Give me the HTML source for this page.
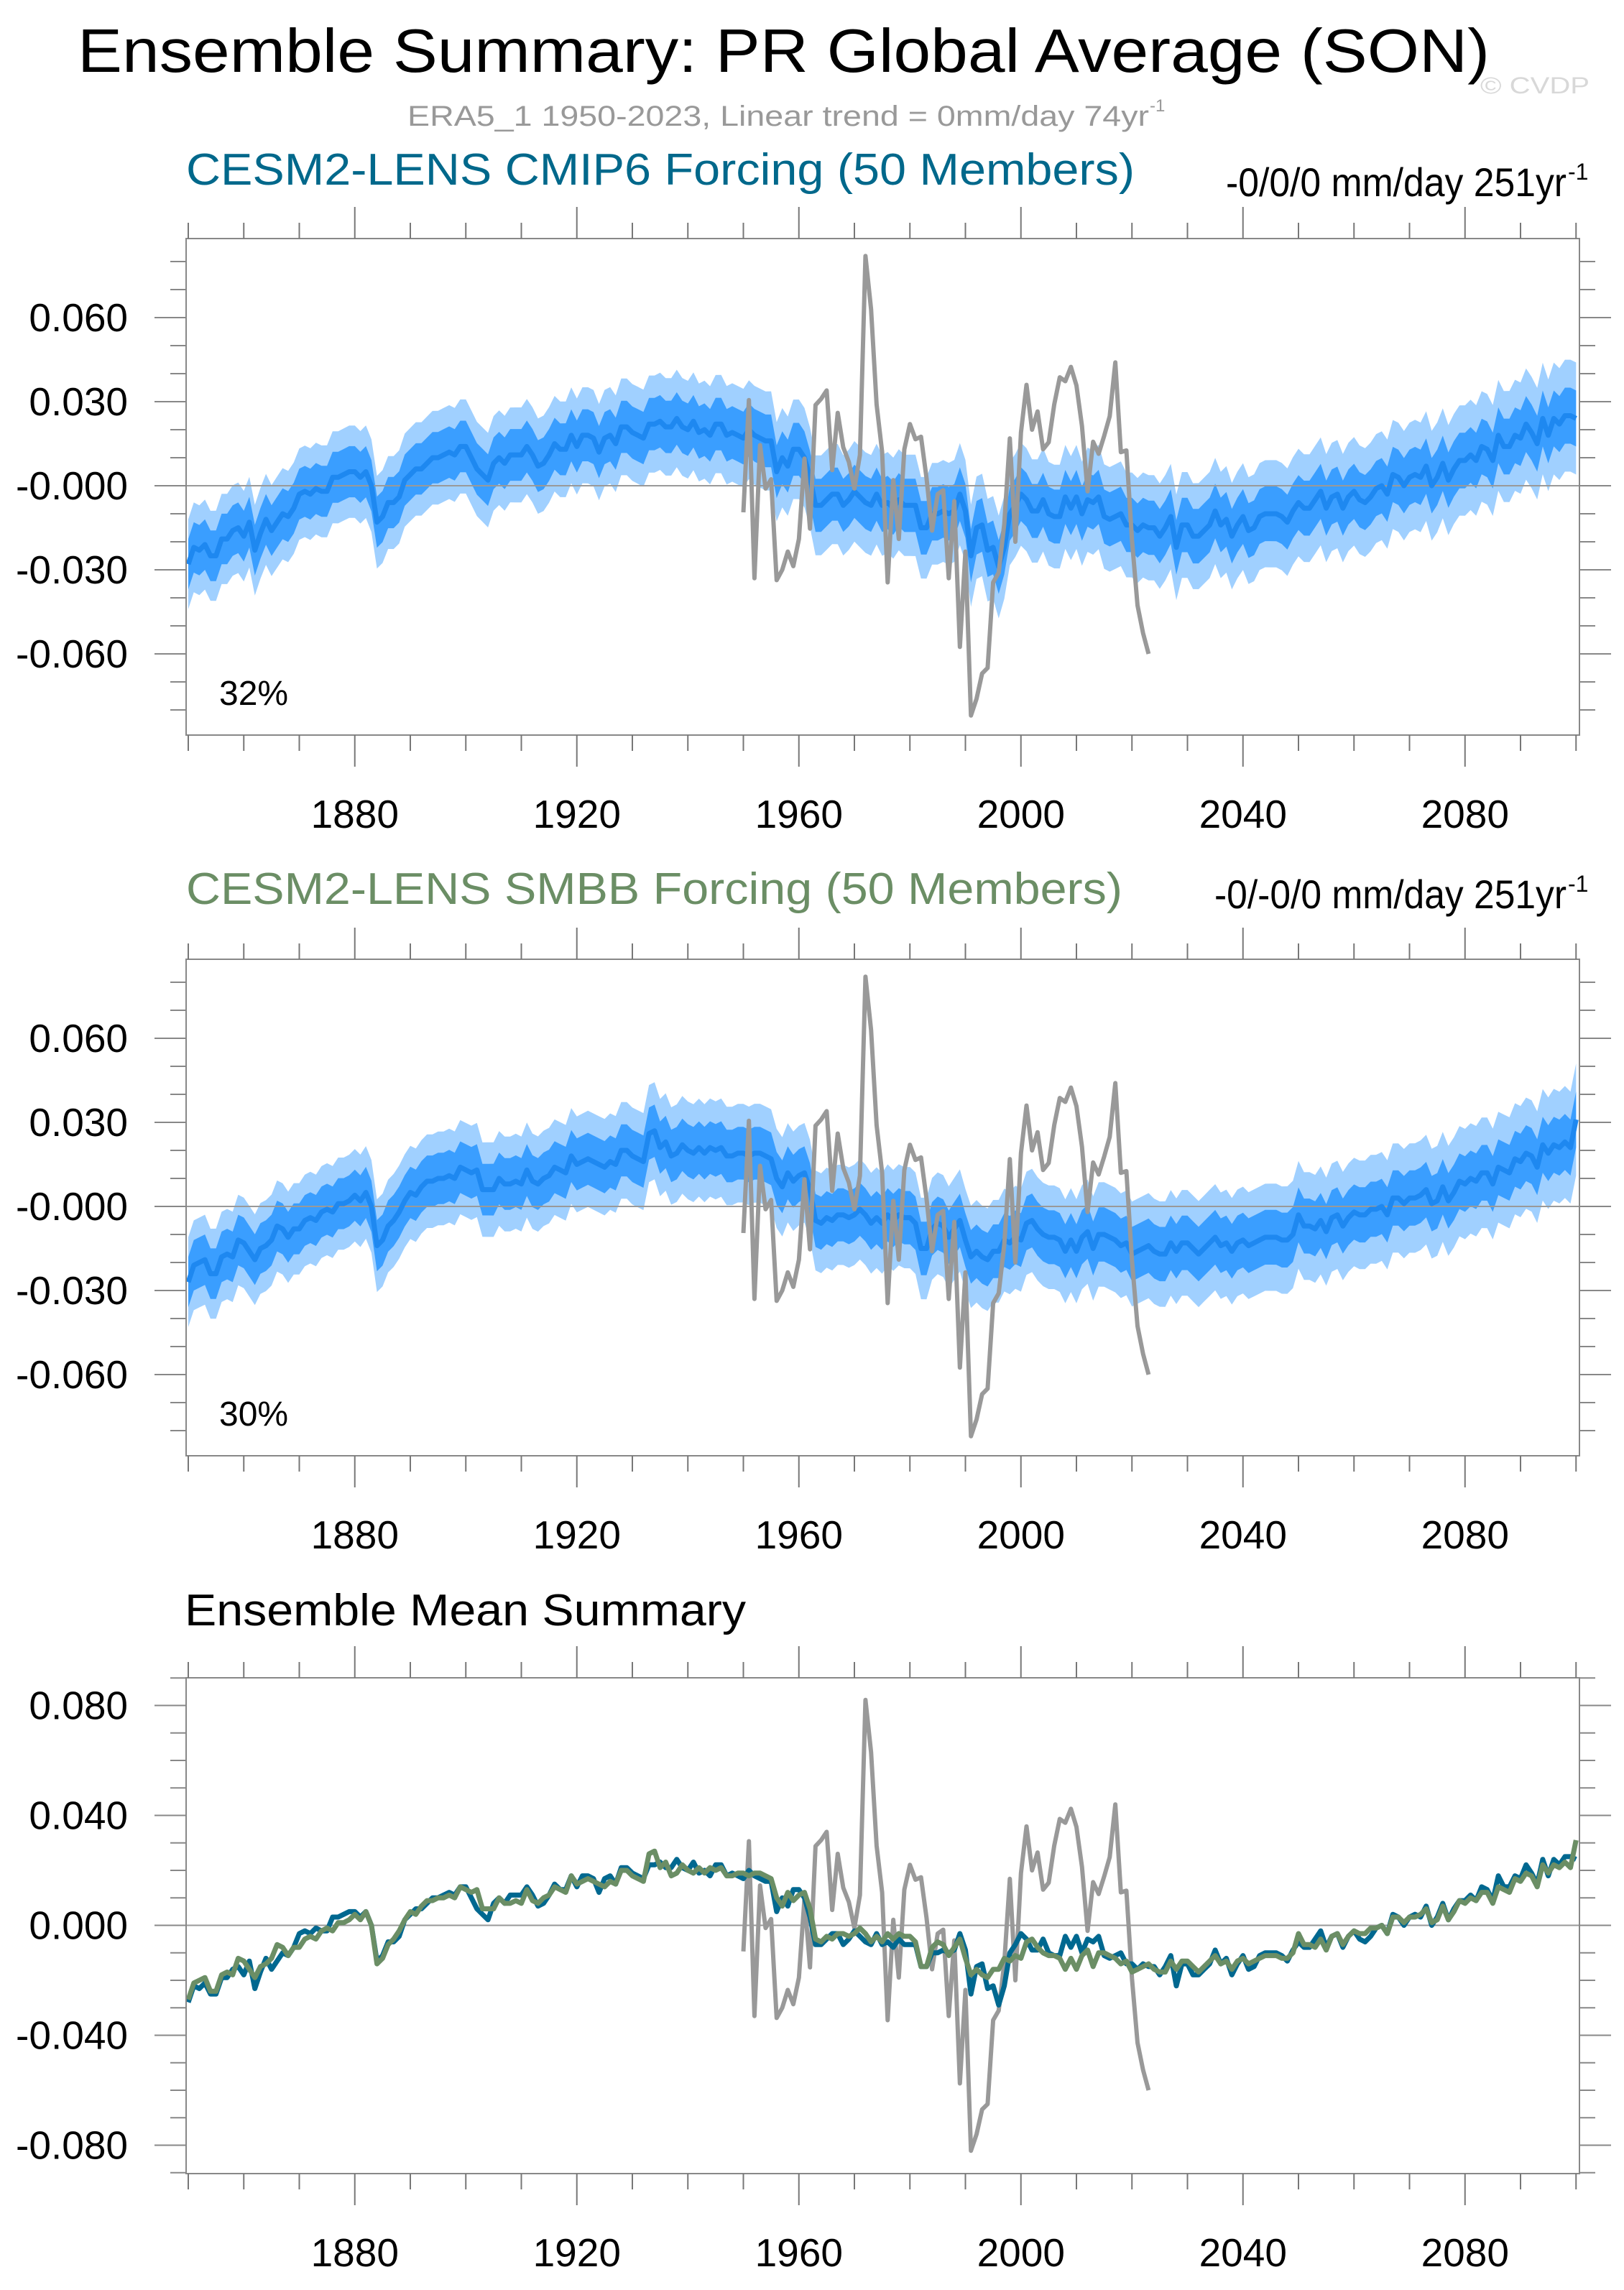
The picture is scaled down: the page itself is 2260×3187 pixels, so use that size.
<!DOCTYPE html>
<html><head><meta charset="utf-8"><style>
html,body{margin:0;padding:0;background:#fff}
svg{display:block;font-family:"Liberation Sans",Arial,sans-serif}
</style></head><body>
<svg id="chart" xmlns="http://www.w3.org/2000/svg" width="2260" height="3187" viewBox="0 0 2260 3187">
<rect width="2260" height="3187" fill="#fff"/>
<text x="108" y="100" font-size="85" textLength="1965" lengthAdjust="spacingAndGlyphs">Ensemble Summary: PR Global Average (SON)</text>
<text x="2060" y="130" font-size="32" fill="#d8d8d8" textLength="152" lengthAdjust="spacingAndGlyphs">© CVDP</text>
<text x="567" y="175" font-size="40" fill="#999" textLength="1032" lengthAdjust="spacingAndGlyphs">ERA5_1 1950-2023, Linear trend = 0mm/day 74yr</text>
<text x="1600" y="155" font-size="24" fill="#999">-1</text>
<text x="259" y="257" font-size="62" fill="#00688b" textLength="1320" lengthAdjust="spacingAndGlyphs">CESM2-LENS CMIP6 Forcing (50 Members)</text>
<text x="1706" y="273" font-size="56" textLength="474" lengthAdjust="spacingAndGlyphs">-0/0/0 mm/day 251yr</text>
<text x="2182" y="250" font-size="32">-1</text>
<text x="259" y="1258" font-size="62" fill="#6b8e65" textLength="1303" lengthAdjust="spacingAndGlyphs">CESM2-LENS SMBB Forcing (50 Members)</text>
<text x="1690" y="1264" font-size="56" textLength="490" lengthAdjust="spacingAndGlyphs">-0/-0/0 mm/day 251yr</text>
<text x="2182" y="1241" font-size="32">-1</text>
<text x="257" y="2262" font-size="62" textLength="781" lengthAdjust="spacingAndGlyphs">Ensemble Mean Summary</text>
<g id="g1"></g><g id="g2"></g><g id="g3"></g>
</svg>
<script>
const cmip6Mean = [-0.028,-0.022,-0.023,-0.021,-0.025,-0.025,-0.019,-0.019,-0.016,-0.015,-0.018,-0.013,-0.023,-0.017,-0.012,-0.016,-0.013,-0.010,-0.011,-0.008,
-0.003,-0.002,-0.003,-0.001,-0.002,-0.002,0.003,0.003,0.004,0.005,0.005,0.003,0.005,0.000,-0.013,-0.011,-0.006,-0.006,-0.004,0.002,
0.004,0.006,0.006,0.008,0.010,0.010,0.011,0.012,0.011,0.014,0.014,0.010,0.006,0.004,0.002,0.008,0.010,0.008,0.011,0.011,
0.011,0.014,0.011,0.007,0.008,0.011,0.015,0.013,0.013,0.018,0.014,0.018,0.018,0.017,0.012,0.017,0.018,0.015,0.021,0.021,
0.019,0.018,0.017,0.022,0.022,0.023,0.021,0.021,0.024,0.021,0.020,0.023,0.019,0.020,0.018,0.022,0.022,0.018,0.019,0.018,
0.017,0.020,0.018,0.017,0.016,0.016,0.005,0.010,0.007,0.013,0.013,0.010,0.003,-0.007,-0.007,-0.005,-0.003,-0.003,-0.007,-0.005,
-0.002,-0.004,-0.006,-0.007,-0.003,-0.007,-0.006,-0.008,-0.005,-0.007,-0.007,-0.007,-0.015,-0.015,-0.010,-0.010,-0.009,-0.010,-0.009,-0.003,
-0.009,-0.025,-0.015,-0.014,-0.023,-0.022,-0.029,-0.022,-0.010,-0.007,-0.003,-0.005,-0.009,-0.009,-0.005,-0.010,-0.011,-0.011,-0.004,-0.008,
-0.004,-0.010,-0.005,-0.006,-0.004,-0.011,-0.012,-0.011,-0.010,-0.014,-0.014,-0.016,-0.014,-0.015,-0.015,-0.018,-0.015,-0.011,-0.022,-0.014,
-0.014,-0.018,-0.018,-0.016,-0.014,-0.009,-0.014,-0.012,-0.018,-0.014,-0.011,-0.016,-0.015,-0.011,-0.010,-0.010,-0.010,-0.011,-0.013,-0.009,
-0.006,-0.008,-0.008,-0.005,-0.002,-0.008,-0.004,-0.003,-0.008,-0.004,-0.002,-0.005,-0.006,-0.004,-0.001,0.000,-0.003,0.004,0.003,0.000,
0.003,0.004,0.003,0.007,0.000,0.003,0.008,0.002,0.006,0.009,0.009,0.011,0.009,0.014,0.013,0.009,0.018,0.014,0.014,0.018,
0.017,0.022,0.019,0.015,0.024,0.018,0.024,0.022,0.025,0.025,0.024];
const smbbMean = [-0.027,-0.021,-0.020,-0.019,-0.024,-0.024,-0.018,-0.017,-0.018,-0.012,-0.013,-0.016,-0.019,-0.015,-0.014,-0.012,-0.007,-0.008,-0.011,-0.008,
-0.008,-0.005,-0.004,-0.005,-0.002,-0.001,-0.002,0.001,0.001,0.002,0.004,0.002,0.005,0.000,-0.014,-0.012,-0.007,-0.005,-0.002,0.002,
0.005,0.004,0.007,0.009,0.009,0.010,0.010,0.011,0.010,0.014,0.013,0.012,0.013,0.006,0.006,0.006,0.010,0.008,0.008,0.009,
0.008,0.013,0.009,0.008,0.010,0.011,0.014,0.013,0.012,0.018,0.015,0.016,0.017,0.016,0.015,0.014,0.016,0.015,0.020,0.020,
0.018,0.017,0.016,0.026,0.027,0.021,0.023,0.018,0.019,0.022,0.020,0.019,0.021,0.019,0.021,0.020,0.021,0.018,0.018,0.019,
0.019,0.018,0.019,0.019,0.018,0.017,0.010,0.007,0.012,0.009,0.011,0.012,0.006,-0.005,-0.006,-0.004,-0.005,-0.003,-0.003,-0.004,
-0.003,-0.001,-0.003,-0.006,-0.004,-0.006,-0.003,-0.005,-0.003,-0.004,-0.004,-0.006,-0.015,-0.015,-0.008,-0.006,-0.007,-0.011,-0.008,-0.005,
-0.012,-0.018,-0.016,-0.018,-0.019,-0.016,-0.016,-0.012,-0.013,-0.011,-0.012,-0.006,-0.005,-0.008,-0.010,-0.011,-0.011,-0.012,-0.016,-0.012,
-0.016,-0.011,-0.009,-0.015,-0.010,-0.010,-0.011,-0.012,-0.014,-0.013,-0.017,-0.016,-0.015,-0.014,-0.016,-0.017,-0.017,-0.013,-0.016,-0.013,
-0.013,-0.015,-0.017,-0.015,-0.013,-0.011,-0.014,-0.013,-0.016,-0.013,-0.012,-0.014,-0.013,-0.012,-0.011,-0.011,-0.011,-0.012,-0.012,-0.010,
-0.003,-0.007,-0.007,-0.008,-0.005,-0.009,-0.004,-0.003,-0.007,-0.004,-0.002,-0.003,-0.003,-0.001,-0.001,0.000,-0.003,0.003,0.003,0.001,
0.003,0.003,0.004,0.006,0.001,0.002,0.007,0.002,0.005,0.009,0.008,0.010,0.009,0.012,0.012,0.008,0.014,0.013,0.012,0.017,
0.016,0.019,0.018,0.014,0.022,0.019,0.022,0.021,0.023,0.021,0.031];
const obsValues = [-0.0095,0.0306,-0.033,0.0145,-0.001,0.0023,-0.0337,-0.030,-0.0235,-0.0287,-0.019,0.0097,-0.0153,0.0288,0.031,0.034,0.0056,0.026,0.0137,0.0085,
-0.001,0.011,0.082,0.063,0.029,0.012,-0.0345,0.002,-0.019,0.013,0.022,0.0166,0.0175,0.0027,-0.016,-0.003,-0.0016,-0.033,-0.0055,-0.0575,
-0.0235,-0.082,-0.076,-0.067,-0.065,-0.0345,-0.031,-0.0136,0.0169,-0.020,0.019,0.036,0.020,0.0265,0.013,0.0155,0.029,0.0387,0.0373,0.0424,
0.0358,0.0213,-0.002,0.0157,0.0114,0.0178,0.0248,0.044,0.012,0.0126,-0.0194,-0.0427,-0.0526,-0.060];
const modelStartYear = 1850;
const obsStartYear = 1950;
const xTickLabels = ["1880","1920","1960","2000","2040","2080"];
const yTickLabelsTop = ["0.060","0.030","-0.000","-0.030","-0.060"];
const yTickValuesTop = [0.06,0.03,0,-0.03,-0.06];
const yTickLabelsBottom = ["0.080","0.040","0.000","-0.040","-0.080"];
const yTickValuesBottom = [0.08,0.04,0,-0.04,-0.08];
const innerSpread = [0.009,0.010];   // ensemble inner band half width (start, end)
const outerSpread = [0.016,0.020];   // ensemble outer band half width (start, end)
const percentLabels = ["32%","30%"];

const NS="http://www.w3.org/2000/svg";
const X0=262, XPY=7.725;
function xs(yr){return X0+(yr-1850)*XPY;}
function mk(tag,attrs,parent){const e=document.createElementNS(NS,tag);for(const k in attrs)e.setAttribute(k,attrs[k]);parent.appendChild(e);return e;}
function linePts(vals,start,ys){return vals.map((v,i)=>xs(start+i).toFixed(1)+","+ys(v).toFixed(1)).join(" ");}

function axes(g,box,ys,yv,yl,vmin,vmax,name){
  const r=mk('rect',{x:box.l,y:box.t,width:box.r-box.l,height:box.b-box.t,fill:'none',stroke:'#888','stroke-width':2},g);
  
  
  for(let yr=1850;yr<=2100;yr+=10){
    const maj=xTickLabels.indexOf(String(yr))>=0;
    const x=xs(yr);
    mk('line',{x1:x,x2:x,y1:box.t,y2:box.t-(maj?44:22),stroke:'#777','stroke-width':2},g);
    mk('line',{x1:x,x2:x,y1:box.b,y2:box.b+(maj?44:22),stroke:'#777','stroke-width':2},g);
  }
  for(let k=Math.ceil(vmin*100);k<=Math.floor(vmax*100);k++){
    const v=k/100, y=ys(v);
    const maj=yv.some(t=>Math.abs(t-v)<1e-9);
    mk('line',{x1:box.l,x2:box.l-(maj?44:22),y1:y,y2:y,stroke:'#888','stroke-width':2},g);
    mk('line',{x1:box.r,x2:box.r+(maj?44:22),y1:y,y2:y,stroke:'#888','stroke-width':2},g);
  }
  yv.forEach((v,i)=>{
    const t=mk('text',{x:178,y:ys(v)+19,'font-size':55,'text-anchor':'end'},g);
    t.textContent=yl[i];
    
    
  });
  xTickLabels.forEach(l=>{
    const t=mk('text',{x:xs(+l),y:box.b+129,'font-size':55,'text-anchor':'middle'},g);
    t.textContent=l;
    
    
  });
}
function zeroLine(g,box,ys){
  const z=mk('line',{x1:box.l,x2:box.r+44,y1:ys(0),y2:ys(0),stroke:'#999','stroke-width':2},g);
  
  
}
function band(g,vals,spread,fill,name,ys){
  const n=vals.length;
  const hw=i=>spread[0]+(spread[1]-spread[0])*i/(n-1);
  const up=vals.map((v,i)=>xs(modelStartYear+i).toFixed(1)+","+ys(v+hw(i)).toFixed(1));
  const dn=vals.map((v,i)=>xs(modelStartYear+i).toFixed(1)+","+ys(v-hw(i)).toFixed(1)).reverse();
  const p=mk('polygon',{points:up.concat(dn).join(" "),fill:fill},g);
  
  
}
function obsLine(g,ys){
  const p=mk('polyline',{points:linePts(obsValues,obsStartYear,ys),fill:'none',stroke:'#999','stroke-width':6,'stroke-linejoin':'round'},g);
  
  
}
function ensPanel(gid,off,vals,pct,name){
  const g=document.getElementById(gid);
  const Y0=676+off, S=3900;
  const ys=v=>Y0-v*S;
  const box={l:259,r:2198,t:332+off,b:1023+off};
  band(g,vals,outerSpread,'#a0d0ff',name+'-outer-band',ys);
  band(g,vals,innerSpread,'#3a9eff',name+'-inner-band',ys);
  zeroLine(g,box,ys);
  const m=mk('polyline',{points:linePts(vals,modelStartYear,ys),fill:'none',stroke:'#1e88f0','stroke-width':7,'stroke-linejoin':'round'},g);
  
  
  obsLine(g,ys);
  axes(g,box,ys,yTickValuesTop,yTickLabelsTop,-0.088,0.088,name);
  const t=mk('text',{x:305,y:981+off,'font-size':48},g);
  t.textContent=pct;
  
  
}
ensPanel('g1',0,cmip6Mean,percentLabels[0],'cmip6-panel');
ensPanel('g2',1003,smbbMean,percentLabels[1],'smbb-panel');
(function(){
  const g=document.getElementById('g3');
  const Y0=2679.5,S=3825.6;
  const ys=v=>Y0-v*S;
  const box={l:259,r:2198,t:2335,b:3025};
  zeroLine(g,box,ys);
  obsLine(g,ys);
  const a=mk('polyline',{points:linePts(cmip6Mean,modelStartYear,ys),fill:'none',stroke:'#006890','stroke-width':7,'stroke-linejoin':'round'},g);
  
  
  const b=mk('polyline',{points:linePts(smbbMean,modelStartYear,ys),fill:'none',stroke:'#6b8e65','stroke-width':7,'stroke-linejoin':'round'},g);
  
  
  axes(g,box,ys,yTickValuesBottom,yTickLabelsBottom,-0.09,0.09,'mean-summary-panel');
})();
</script>
</body></html>
